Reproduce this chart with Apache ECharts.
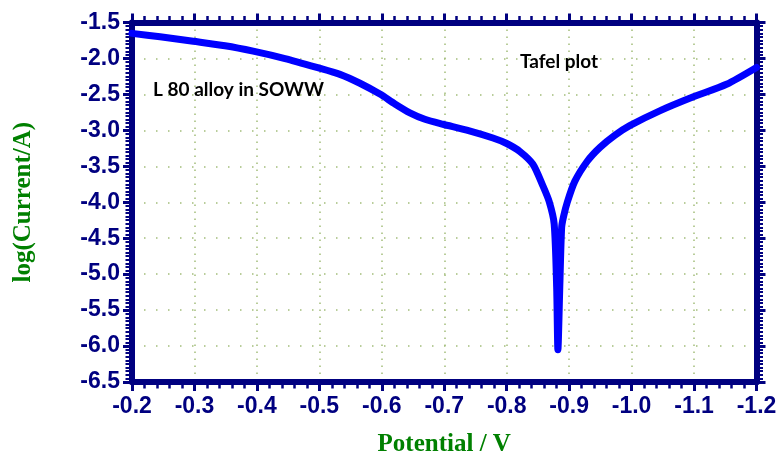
<!DOCTYPE html>
<html>
<head>
<meta charset="utf-8">
<script src="https://cdn.jsdelivr.net/npm/echarts@6/dist/echarts.min.js"></script>
<style>
html,body{margin:0;padding:0;background:#fff;}
#main{width:781px;height:462px;}
</style>
</head>
<body>
<div id="main"></div>
<script>
// Potential (V) and log(Current/A)
const potential = [
  -0.200, -0.245, -0.298, -0.349, -0.394, -0.445, -0.496, -0.533, -0.565, -0.597,
  -0.621, -0.645, -0.669, -0.698, -0.736, -0.778, -0.800, -0.821, -0.842, -0.858,
  -0.868, -0.876, -0.880, -0.882, -0.885, -0.888, -0.891, -0.897, -0.909, -0.929,
  -0.949, -0.973, -0.997, -1.045, -1.098, -1.152, -1.200
];
const logCurrent = [
  -1.651, -1.699, -1.761, -1.823, -1.898, -2.001, -2.125, -2.221, -2.345, -2.496,
  -2.633, -2.757, -2.846, -2.915, -2.997, -3.107, -3.183, -3.293, -3.471, -3.773,
  -3.99, -4.30, -5.18, -6.05, -5.18, -4.35, -4.20, -4.00, -3.71, -3.43,
  -3.24, -3.07, -2.935, -2.729, -2.537, -2.359, -2.125
];
const xRange = [-1.2, -0.2];
const yRange = [-6.5, -1.5];
const xTitle = 'Potential / V';
const yTitle = 'log(Current/A)';
const note1 = 'L 80 alloy in SOWW';
const note2 = 'Tafel plot';

const navy = '#000080';
const gridColor = '#a3bd7a';
const tickFont = {color: navy, fontFamily: 'Liberation Sans', fontWeight: 'bold', fontSize: 23};

const chart = echarts.init(document.getElementById('main'), null, {renderer: 'canvas'});
const fmt = v => Number(v).toFixed(1);

const baseX = {
  type: 'value', min: xRange[0], max: xRange[1], interval: 0.1, inverse: true,
  axisLine: {show: true, lineStyle: {color: navy, width: 6}},
  axisTick: {show: true, inside: false, length: 9, lineStyle: {color: navy, width: 3}},
  minorTick: {show: true, splitNumber: 5, length: 6.5, lineStyle: {color: navy, width: 2.5}}
};
const baseY = {
  type: 'value', min: yRange[0], max: yRange[1], interval: 0.5,
  axisLine: {show: true, lineStyle: {color: navy, width: 6}},
  axisTick: {show: true, inside: false, length: 9, lineStyle: {color: navy, width: 3}},
  minorTick: {show: true, splitNumber: 10, length: 6.5, lineStyle: {color: navy, width: 2}}
};

chart.setOption({
  animation: false,
  backgroundColor: '#fff',
  grid: {left: 132, right: 24.5, top: 22.5, bottom: 75.5},
  xAxis: [
    Object.assign({}, baseX, {
      position: 'bottom',
      axisLabel: Object.assign({margin: 13, formatter: fmt}, tickFont),
      splitLine: {show: true, lineStyle: {color: gridColor, width: 1.5, type: [1.5, 5.5]}},
      name: xTitle, nameLocation: 'middle', nameGap: 50,
      nameTextStyle: {color: '#008000', fontFamily: 'Liberation Serif', fontWeight: 'bold', fontSize: 25}
    }),
    Object.assign({}, baseX, {
      position: 'top',
      axisLabel: {show: false},
      splitLine: {show: false}
    })
  ],
  yAxis: [
    Object.assign({}, baseY, {
      position: 'left',
      axisLabel: Object.assign({margin: 12, formatter: fmt}, tickFont),
      splitLine: {show: true, lineStyle: {color: gridColor, width: 1.5, type: [1.5, 10.5]}},
      name: yTitle, nameLocation: 'middle', nameGap: 96,
      nameTextStyle: {color: '#008000', fontFamily: 'Liberation Serif', fontWeight: 'bold', fontSize: 25}
    }),
    Object.assign({}, baseY, {
      position: 'right',
      axisLabel: {show: false},
      splitLine: {show: false}
    })
  ],
  series: [{
    type: 'line',
    xAxisIndex: 0, yAxisIndex: 0,
    data: potential.map((p, i) => [p, logCurrent[i]]),
    showSymbol: false,
    smooth: 0.25,
    lineStyle: {color: '#0000ff', width: 7, cap: 'round', join: 'round'},
    clip: false,
    z: 1
  }],
  graphic: [
    {type: 'text', left: 153, top: 80, z: 10,
     style: {text: note1, fill: '#000', font: 'bold 19px Lato'}},
    {type: 'text', left: 520, top: 52, z: 10,
     style: {text: note2, fill: '#000', font: 'bold 19px Lato'}}
  ]
});
</script>
</body>
</html>
